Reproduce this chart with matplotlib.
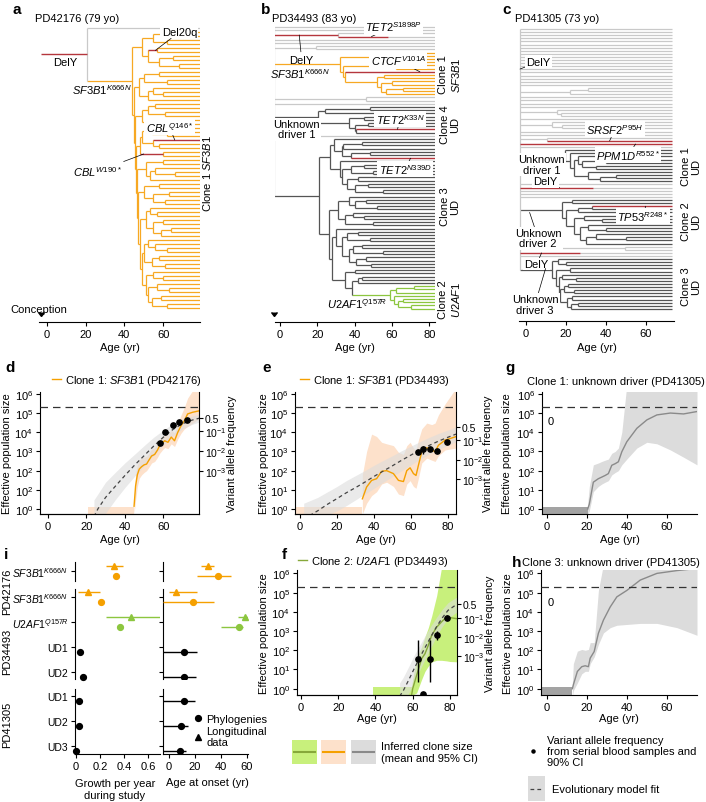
import matplotlib
matplotlib.use("Agg")
import matplotlib.pyplot as plt
from matplotlib.collections import LineCollection
from matplotlib.lines import Line2D
from matplotlib.patches import Rectangle
from matplotlib.ticker import NullLocator

plt.rcParams.update({
    'font.family': ['Liberation Sans', 'DejaVu Sans'],
    'font.size': 8,
    'mathtext.fontset': 'custom',
    'mathtext.rm': 'Liberation Sans',
    'mathtext.it': 'Liberation Sans:italic',
    'mathtext.bf': 'Liberation Sans:bold',
    'axes.linewidth': 0.8,
    'xtick.major.width': 0.8, 'ytick.major.width': 0.8,
    'xtick.major.size': 3, 'ytick.major.size': 3,
    'xtick.major.pad': 2, 'ytick.major.pad': 2,
    'xtick.labelsize': 8, 'ytick.labelsize': 8,
})

W, H = 706, 803

# colours
ORANGE = '#f5a000'
ORANGE_BAND = '#fde1cb'
GREEN = '#8cc63f'
GREEN_LINE = '#86a83a'
GREEN_BAND = '#c8f07c'
GRAY_LINE = '#8a8a8a'
GRAY_BAND = '#dcdcdc'
ONSET_GRAY = '#a3a3a3'
RED = '#b5363d'
TREE_COLORS = {'light': '#c9c9c9', 'orange': '#f7a823', 'dark': '#555555', 'green': '#8cc63f'}

# ---------------- phylogenies (adjacent-tip coalescence ages) ----------------
R = -3.0  # conception

A_GROUPS = ['light'] + ['orange'] * 70
A_SPLITS = [21,
            60, 55, 62, 49, 57, 52, 65, 58, 68, 44,
            58, 50, 62, 47.5, 55, 60, 52, 45,
            56, 52, 61, 49, 64, 45.5,
            54, 62, 49, 55, 58, 48, 60, 46,
            60, 51, 56, 66, 53, 46.5,
            58, 50, 63, 55, 61, 47,
            53, 57, 51, 60, 55, 64, 59, 48,
            52, 56, 62, 50, 58, 54, 61, 49,
            55, 60, 51, 57, 63, 52, 59, 54, 62]
A_MUTS = {(0, 70): None, (5, 6): None, (28, 28): None, (31, 32): None}

B_GROUPS = (['light'] * 8 + ['orange'] * 14 + ['light'] * 3 + ['dark'] * 9 +
            ['light'] + ['dark'] * 46 + ['green'] * 8)
B_SPLITS = [R, R, 31, R, R, R, 19.5, R,
            72, 60, 32, 64, 62, 34, 35, 56, 52, 60, 54, 66, 57,
            R, 46, R, R,
            48, 24, 20.5, 45, 37, 47, 40, 41,
            R, R,
            29, 44, 34, 33, 48, 38, 27,
            32, 45, 38, 50, 33, 42, 36, 47, 40, 55, 21,
            37, 46, 40, 52, 31, 39, 45, 35, 50, 26,
            30, 42, 36, 48, 33, 44, 39, 55, 37, 46, 41, 49, 28,
            40, 35, 44, 42, 38.5, 72, 62, 59, 61, 66, 63, 70]
B_MUTS = {(2, 3): None, (3, 3): 58, (14, 14): None, (32, 32): None, (41, 41): None}

C_GROUPS = (['light'] * 39 + ['dark'] * 11 + ['light'] * 5 + ['dark'] * 15 +
            ['light'] * 4 + ['dark'] * 17)
C_SPLITS = ([R] * 19 + [31.3, 22.2] + [R] * 5 + [15.8, 17.5, R, R, 13, 18, R, R, R, 10.5, R, R, R] +
            [19.7, 22, 26, 40, 28, 35, 24, 31, 45, 37] +
            [R] * 6 +
            [23, 18, 33, 26, 20, 29, 38, 24, 31, 40, 27, 35, 50, 30] +
            [R, 49.7, R, R, R] +
            [16, 20, 13, 22, 15, 18, 25, 16.5, 21, 19, 24, 17, 23, 20.5, 26, 22.5])
C_MUTS = {(36, 36): None, (37, 37): None, (51, 51): 33.8, (57, 57): None, (72, 72): 27}

# ---------------- clone trajectories ----------------
D_AGE = [44.8, 45.6, 46.5, 47.5, 48.7, 50.0, 51.3, 52.5, 53.9, 55.5, 57.0, 58.1, 59.5, 60.7,
         62.4, 64.1, 65.8, 67.5, 69.2, 70.9, 72.6, 75.2, 78.5]
D_MEAN = [1.4, 16, 60, 120, 160, 200, 220, 350, 580, 700, 1200, 2000, 2800, 3600, 3000, 5600,
          3600, 1e4, 2.2e4, 4e4, 9e4, 1.1e5, 1.3e5]
D_LO = [0.55, 3, 15, 40, 60, 80, 100, 150, 250, 300, 500, 800, 1200, 1600, 1400, 2500, 1800,
        4500, 9e3, 1.5e4, 2e4, 3e4, 5e4]
D_HI = [3, 60, 200, 350, 450, 500, 550, 800, 1300, 1600, 2700, 4500, 6500, 8000, 7000, 1.3e4,
        9000, 3e4, 8e4, 2e5, 6e5, 1.5e6, 2e6]
D_ONSET = [21, 44.8]
D_FIT_AGE = [24, 26, 30, 35, 40, 45, 50, 55, 60, 65, 70, 75, 79]
D_FIT = [0.4, 1, 4, 15, 55, 190, 600, 1900, 5500, 1.4e4, 2.8e4, 4.3e4, 5.5e4]
D_FIT_LO = [0.1, 0.2, 0.6, 3, 13, 50, 180, 650, 2200, 6500, 1.5e4, 2.6e4, 3.5e4]
D_FIT_HI = [3, 6, 25, 80, 250, 700, 2000, 5500, 1.3e4, 2.8e4, 5e4, 7e4, 8.5e4]
D_VAF_AGE = [58.1, 61.0, 65.0, 67.9, 72.3]
D_VAF_N = [2600, 1.07e4, 2.4e4, 3.5e4, 4.2e4]
D_VAF_TICKS = [5.6e4, 1.1e4, 1.05e3, 100]

E_AGE = [33.7, 36, 38.7, 41.4, 44.1, 46.8, 50.5, 53.2, 55.9, 57.7, 59.5, 61.3, 62.7, 64, 65.8,
         68.5, 71.2, 73, 74.8, 78.4, 84.3]
E_MEAN = [3.4, 14, 31, 38, 92, 100, 70, 31, 27, 100, 140, 70, 56, 190, 960, 1550, 1200, 960,
          2100, 3900, 5900]
E_LO = [0.55, 2, 5, 8, 20, 25, 15, 6, 5, 20, 30, 15, 12, 40, 250, 450, 350, 300, 600, 1200, 1500]
E_HI = [60, 1000, 8000, 6000, 3000, 2500, 2000, 900, 700, 2000, 3000, 1500, 1200, 4000, 1.5e4,
        3e4, 2.5e4, 3e4, 8e4, 3e5, 2e6]
E_ONSET = [-2.7, 33.7]
E_FIT_AGE = [2, 9.5, 15, 20, 25, 30, 35, 40, 45, 50, 55, 60, 65, 70, 75, 80, 84.3]
E_FIT = [0.3, 0.8, 1.8, 3.5, 7, 13, 25, 50, 95, 180, 350, 650, 1200, 2100, 3500, 5500, 8000]
E_FIT_LO = [0.1, 0.2, 0.5, 0.8, 1.5, 3, 6, 12, 25, 50, 100, 200, 400, 750, 1300, 2100, 3200]
E_FIT_HI = [2, 4, 8, 15, 30, 55, 100, 190, 340, 600, 1100, 1900, 3300, 5500, 8800, 1.3e4, 1.9e4]
E_VAF_AGE = [63.6, 66.6, 70.2, 73.8, 79.2]
E_VAF_N = [950, 1300, 1300, 1100, 3000]
E_VAF_LO = [800, 700, 1100, 950, 2600]
E_VAF_HI = [1100, 2000, 1500, 1300, 3500]
E_VAF_TICKS = [1.8e4, 4e3, 350, 38]

F_AGE = [59.5, 60, 62.1, 64.8, 66.6, 68.4, 70.2, 72.9, 75.5, 78.2, 80, 83.8]
F_MEAN = [0.5, 1, 4.9, 36, 66, 180, 600, 1600, 3000, 5400, 5000, 4400]
F_LO = [0.47, 0.47, 0.6, 3, 8, 15, 25, 30, 30, 28, 26, 25]
F_HI = [1.5, 3, 40, 150, 500, 1500, 6000, 7e4, 2e6, 3e6, 3e6, 3e6]
F_ONSET = [38.8, 59.5]
F_FIT_AGE = [53, 55, 58, 61, 64, 67, 70, 73, 76, 79, 83.8]
F_FIT = [0.4, 0.8, 3, 12, 45, 160, 550, 1800, 5000, 1.2e4, 2.5e4]
F_FIT_LO = [0.1, 0.2, 0.6, 2.5, 10, 40, 150, 600, 1800, 4500, 1e4]
F_FIT_HI = [2, 4, 15, 60, 200, 650, 2000, 5500, 1.4e4, 3e4, 6e4]
F_VAF_AGE = [62.6, 65.3, 69.3, 72.8, 78.2]
F_VAF_N = [36, 0.5, 36, 650, 5000]
F_VAF_LO = [2.2, 0.5, 2.2, 350, 4000]
F_VAF_HI = [330, 0.5, 330, 1000, 6500]
F_VAF_TICKS = [2.7e4, 4.8e3, 490, 50]

G_AGE = [20.5, 21.3, 23.3, 25.8, 27.5, 29.2, 30.8, 32.5, 34.2, 35.8, 37.5, 40, 45, 50, 55, 61.7,
         68.3, 75]
G_MEAN = [1, 1.8, 25, 38, 46, 56, 70, 190, 230, 290, 960, 3200, 1.6e4, 4.4e4, 8e4, 1e5, 9e4, 1.2e5]
G_LO = [0.5, 0.8, 8, 15, 20, 25, 30, 60, 80, 100, 200, 400, 1500, 3000, 2500, 1200, 500, 200]
G_HI = [2, 15, 200, 250, 300, 350, 400, 800, 1000, 1500, 1e4, 3e6, 3e6, 3e6, 3e6, 3e6, 3e6, 3e6]
G_ONSET = [-2.3, 20.5]

H_AGE = [12.8, 13.3, 15.3, 17.5, 19.2, 20.8, 21.7, 23.7, 25.8, 28.3, 31.7, 35, 40, 46.7, 55, 65, 75]
H_MEAN = [1, 1.6, 7.9, 14, 15.6, 14, 39, 86, 770, 3700, 1.8e4, 6e4, 1.3e5, 4.5e5, 1e6, 1.4e6, 1.8e6]
H_LO = [0.4, 0.8, 2, 6, 8, 8, 20, 45, 200, 800, 1500, 2000, 2200, 2500, 2500, 1500, 600]
H_HI = [2, 20, 90, 110, 100, 110, 250, 250, 1.3e5, 3e6, 3e6, 3e6, 3e6, 3e6, 3e6, 3e6, 3e6]
H_ONSET = [-2.85, 12.8]

# ---------------- panel i ----------------
I_ROW_LABELS = [r'$\mathit{SF3B1}^{\mathit{K666N}}$', r'$\mathit{SF3B1}^{\mathit{K666N}}$',
                r'$\mathit{U2AF1}^{\mathit{Q157R}}$', 'UD1', 'UD2', 'UD1', 'UD2', 'UD3']
I_ROW_GROUP = [0, 1, 1, 1, 1, 2, 2, 2]
I_ROW_POS = [0, 0, 1, 2, 3, 0, 1, 2]
I_ROW_COLORS = [ORANGE, ORANGE, GREEN, 'k', 'k', 'k', 'k', 'k']
I_GROUP_NAMES = ['PD42176', 'PD34493', 'PD41305']
I_GROWTH_PHYLO = [0.33, 0.21, 0.37, 0.033, 0.056, 0.025, 0.027, 0.0]
I_GROWTH_LONG = [0.32, 0.10, 0.46]
I_GROWTH_LONG_LO = [0.25, 0.02, 0.25]
I_GROWTH_LONG_HI = [0.39, 0.20, 0.72]
I_ONSET_PHYLO = [37.9, 18.3, 54.4, 11.8, 11.9, 11.8, 9.4, 8.1]
I_ONSET_PHYLO_LO = [21.7, -5, 40.5, -5, -5, -5, -5, -5]
I_ONSET_PHYLO_HI = [47.8, 34.8, 57.0, 21.7, 21.0, 20.4, 15.0, 13.3]
I_ONSET_LONG = [30.0, 5.5, 58.3]
I_ONSET_LONG_LO = [24.3, 0.0, 53.0]
I_ONSET_LONG_HI = [34.8, 21.7, 63.5]


def box(x0, y0, x1, y1):
    return [x0 / W, 1 - y1 / H, (x1 - x0) / W, (y1 - y0) / H]


def px_ax(b, x, y):
    x0, y0, x1, y1 = b
    return (x - x0) / (x1 - x0), (y1 - y) / (y1 - y0)


def ftext(x, y, s, **kw):
    kw.setdefault('ha', 'center')
    kw.setdefault('va', 'center')
    fig.text(x / W, 1 - y / H, s, **kw)


def draw_tree(ax, splits, groups, tip_age, muts):
    segs, cols, red = [], [], []

    def node_color(lo, hi):
        g = set(groups[lo:hi + 1])
        if len(g) == 1:
            return TREE_COLORS[g.pop()]
        return TREE_COLORS['light'] if 'light' in g else TREE_COLORS['dark']

    def stem(lo, hi, a0, a1, y, c):
        if (lo, hi) in muts:
            end = muts[(lo, hi)]
            end = a1 if end is None else end
            red.append([(a0, y), (end, y)])
            if end < a1:
                segs.append([(end, y), (a1, y)]); cols.append(c)
        else:
            segs.append([(a0, y), (a1, y)]); cols.append(c)

    def build(lo, hi, parent):
        c = node_color(lo, hi)
        if lo == hi:
            stem(lo, hi, parent, tip_age, lo, c)
            return lo
        inner = splits[lo:hi]
        age = min(inner)
        cuts = [lo + i for i, v in enumerate(inner) if v == age]
        starts = [lo] + [k + 1 for k in cuts]
        ends = cuts + [hi]
        ys = [build(a, b, age) for a, b in zip(starts, ends)]
        y = (ys[0] + ys[-1]) / 2
        segs.append([(age, ys[0]), (age, ys[-1])]); cols.append(c)
        stem(lo, hi, parent, age, y, c)
        return y

    build(0, len(groups) - 1, R)
    ax.add_collection(LineCollection(segs, colors=cols, linewidths=0.9))
    ax.add_collection(LineCollection(red, colors=RED, linewidths=1.0))


def tree_panel(b, splits, groups, tip_age, muts, xlim, ylim, xticks):
    ax = fig.add_axes(box(*b))
    draw_tree(ax, splits, groups, tip_age, muts)
    ax.set_xlim(*xlim)
    ax.set_ylim(*ylim)
    for s in ['left', 'right', 'top']:
        ax.spines[s].set_visible(False)
    ax.set_yticks([])
    ax.set_xticks(xticks)
    ax.plot([R], [0.02], marker=7, ms=4, color='k', transform=ax.get_xaxis_transform(),
            clip_on=False)
    ax.set_xlabel('Age (yr)')
    ax.xaxis.set_label_coords(*px_ax(b, (b[0] + b[2]) / 2, 348))
    ax.xaxis.label.set_va('center')
    return ax


def note(ax, text, xytext, xy=None, bbox=True):
    kw = dict(ha='center', va='center', fontsize=8, zorder=5, linespacing=1.05)
    if bbox:
        kw['bbox'] = dict(boxstyle='square,pad=0.12', fc='white', ec='none')
    if xy is None:
        ax.text(xytext[0], xytext[1], text, **kw)
    else:
        ax.annotate(text, xy=xy, xytext=xytext,
                    arrowprops=dict(arrowstyle='-', color='k', lw=0.5, shrinkA=0, shrinkB=0), **kw)


def clone_panel(b, age, mean, lo, hi, onset, line_c, band_c, onset_c, xlim, ylim, xticks,
                ylabels, ylab_x, fit=None, vaf=None, vaf_ticks=None, vlab_x=None, xlab_y=540):
    ax = fig.add_axes(box(*b))
    ax.set_yscale('log')
    ax.fill_between(age, lo, hi, color=band_c, lw=0, zorder=1)
    ax.fill_between(onset, [ylim[0]] * 2, [1.3] * 2, color=onset_c, lw=0, zorder=1)
    if fit is not None:
        fa, fm, fl, fh = fit
        ax.fill_between(fa, fl, fh, color=GRAY_BAND, alpha=0.6, lw=0, zorder=2)
    ax.plot(age, mean, color=line_c, lw=1, zorder=3)
    if fit is not None:
        ax.plot(fa, fm, color='#444444', lw=0.9, ls=(0, (3, 2.5)), zorder=4)
    ax.axhline(2e5, color='#333333', lw=0.9, ls=(0, (6, 4)), zorder=4)
    if vaf is not None:
        va, vn, vlo, vhi = vaf
        ax.errorbar(va, vn, yerr=[[n - l for n, l in zip(vn, vlo)], [h - n for n, h in zip(vn, vhi)]],
                    fmt='o', color='k', ms=3.8, elinewidth=1, capsize=0, zorder=5)
    ax.set_xlim(*xlim)
    ax.set_ylim(*ylim)
    ax.set_xticks(xticks)
    ax.set_yticks([1, 10, 100, 1e3, 1e4, 1e5, 1e6])
    ax.set_yticklabels(ylabels)
    ax.yaxis.set_minor_locator(NullLocator())
    ax.spines['top'].set_visible(False)
    ax.spines['right'].set_visible(False)
    ax.set_xlabel('Age (yr)')
    ax.xaxis.set_label_coords(*px_ax(b, (b[0] + b[2]) / 2, xlab_y))
    ax.xaxis.label.set_va('center')
    ax.set_ylabel('Effective population size')
    ax.yaxis.set_label_coords(*px_ax(b, ylab_x, (b[1] + b[3]) / 2))
    ax.yaxis.label.set_va('center')
    if vaf_ticks is not None:
        ax2 = ax.twinx()
        ax2.set_yscale('log')
        ax2.set_ylim(*ylim)
        ax2.set_yticks(vaf_ticks)
        ax2.set_yticklabels(['0.5', r'10$^{-1}$', r'10$^{-2}$', r'10$^{-3}$'], fontsize=7.5)
        ax2.tick_params(axis='y', pad=1)
        ax2.yaxis.set_minor_locator(NullLocator())
        ax2.spines['top'].set_visible(False)
        ax2.spines['left'].set_visible(False)
        ax2.set_ylabel('Variant allele frequency')
        ax2.yaxis.set_label_coords(*px_ax(b, vlab_x, (b[1] + b[3]) / 2))
        ax2.yaxis.label.set_va('center')
    return ax


fig = plt.figure(figsize=(W / 100, H / 100), dpi=100)

# ---------- a ----------
ba = (39, 20, 200, 323)
axa = tree_panel(ba, A_SPLITS, A_GROUPS, 79, A_MUTS, (-4, 79), (73.5, -2.25), [0, 20, 40, 60])
note(axa, 'Del20q', (68.4, 1), (56, 5.6))
note(axa, r'$\mathit{SF3B1}^{\mathit{K666N}}$', (28.3, 15.3), bbox=False)
note(axa, r'$\mathit{CBL}^{\mathit{Q146*}}$', (63.2, 24.7), (66, 28))
note(axa, r'$\mathit{CBL}^{\mathit{W190*}}$', (26.3, 35.8), (50, 31.5), bbox=False)
note(axa, 'DelY', (9.4, 8.6), bbox=False)
ftext(35, 19, 'PD42176 (79 yo)', ha='left')
ftext(39, 310, 'Conception')
ftext(207, 173, r'Clone 1 $\mathit{SF3B1}$', rotation=90)

# ---------- b ----------
bb = (275, 20, 435, 323)
axb = tree_panel(bb, B_SPLITS, B_GROUPS, 83, B_MUTS, (-2.7, 83.1), (92.2, -2.5), [0, 20, 40, 60, 80])
note(axb, r'$\mathit{TET2}^{\mathit{S1898P}}$', (60.8, -0.2), (49, 3))
note(axb, 'DelY', (11.6, 10.2), (10.3, 2.5), bbox=False)
note(axb, r'$\mathit{SF3B1}^{\mathit{K666N}}$', (10.8, 14.4), bbox=False)
note(axb, r'$\mathit{CTCF}^{\mathit{V101A}}$', (63.4, 10.5), (75, 14))
note(axb, 'Unknown\ndriver 1', (8.9, 31.9))
note(axb, r'$\mathit{TET2}^{\mathit{K33N}}$', (64.3, 28.7), (63, 32))
note(axb, r'$\mathit{TET2}^{\mathit{N339D}}$', (67, 44.4), (70, 41))
note(axb, r'$\mathit{U2AF1}^{\mathit{Q157R}}$', (41.1, 86.3), bbox=False)
ftext(272, 19, 'PD34493 (83 yo)', ha='left')
for yy, lab in [(75, 'Clone 1\n$\\mathit{SF3B1}$'), (125, 'Clone 4\nUD'), (207, 'Clone 3\nUD'),
                (300, 'Clone 2\n$\\mathit{U2AF1}$')]:
    ftext(450, yy, lab, rotation=90, linespacing=1.1)

# ---------- c ----------
bc = (519, 20, 674, 322)
axc = tree_panel(bc, C_SPLITS, C_GROUPS, 73, C_MUTS, (-3.3, 74.2), (93.9, -3.2), [0, 20, 40, 60])
note(axc, 'DelY', (6.5, 10.5), (-2.8, 12.9))
note(axc, r'$\mathit{SRSF2}^{\mathit{P95H}}$', (44.7, 32.2), (42, 36))
note(axc, r'$\mathit{PPM1D}^{\mathit{R552*}}$', (51.3, 40.5), (55, 37))
note(axc, 'Unknown\ndriver 1', (8, 43.6))
note(axc, 'DelY', (10, 49), (17, 51))
note(axc, r'$\mathit{TP53}^{\mathit{R248*}}$', (58.8, 60.2), (60, 57))
note(axc, 'Unknown\ndriver 2', (6.3, 67.3), (2, 59))
note(axc, 'DelY', (5.5, 75.6), (8, 72))
note(axc, 'Unknown\ndriver 3', (4.7, 88.6), (10, 77))
ftext(515, 19, 'PD41305 (73 yo)', ha='left')
for yy, lab in [(167, 'Clone 1\nUD'), (222, 'Clone 2\nUD'), (287, 'Clone 3\nUD')]:
    ftext(691, yy, lab, rotation=90, linespacing=1.1)

# ---------- d, e, g ----------
YL = [r'10$^0$', r'10$^1$', r'10$^2$', r'10$^3$', r'10$^4$', r'10$^5$', r'10$^6$']
YL_D = [r'10$^0$', r'10$^2$', r'10$^2$', r'10$^3$', r'10$^4$', r'10$^5$', r'10$^6$']
bd = (40, 393, 199, 515)
axd = clone_panel(bd, D_AGE, D_MEAN, D_LO, D_HI, D_ONSET, ORANGE, ORANGE_BAND, ORANGE_BAND,
                  (-4, 78.5), (0.55, 1.25e6), [0, 20, 40, 60], YL_D, 7,
                  fit=(D_FIT_AGE, D_FIT, D_FIT_LO, D_FIT_HI),
                  vaf=(D_VAF_AGE, D_VAF_N, D_VAF_N, D_VAF_N), vaf_ticks=D_VAF_TICKS, vlab_x=232)
be = (295, 393, 456, 515)
axe = clone_panel(be, E_AGE, E_MEAN, E_LO, E_HI, E_ONSET, ORANGE, ORANGE_BAND, ORANGE_BAND,
                  (-2.7, 84.3), (0.55, 1.25e6), [0, 20, 40, 60, 80], YL, 264,
                  fit=(E_FIT_AGE, E_FIT, E_FIT_LO, E_FIT_HI),
                  vaf=(E_VAF_AGE, E_VAF_N, E_VAF_LO, E_VAF_HI), vaf_ticks=E_VAF_TICKS, vlab_x=488)
bg = (542, 393, 697, 515)
axg = clone_panel(bg, G_AGE, G_MEAN, G_LO, G_HI, G_ONSET, GRAY_LINE, GRAY_BAND, ONSET_GRAY,
                  (-2.3, 75), (0.55, 1.25e6), [0, 20, 40, 60], YL, 507)
axg.text(0.3, 4e4, '0', ha='left', va='center')

# ---------- f, h ----------
bf = (297, 571, 457, 696)
axf = clone_panel(bf, F_AGE, F_MEAN, F_LO, F_HI, F_ONSET, GREEN_LINE, GREEN_BAND, GREEN_BAND,
                  (-2.1, 83.8), (0.47, 1.5e6), [0, 20, 40, 60, 80], YL, 264,
                  fit=(F_FIT_AGE, F_FIT, F_FIT_LO, F_FIT_HI),
                  vaf=(F_VAF_AGE, F_VAF_N, F_VAF_LO, F_VAF_HI), vaf_ticks=F_VAF_TICKS, vlab_x=490,
                  xlab_y=719)
bh = (541, 571, 697, 696)
axh = clone_panel(bh, H_AGE, H_MEAN, H_LO, H_HI, H_ONSET, GRAY_LINE, GRAY_BAND, ONSET_GRAY,
                  (-2.85, 75), (0.47, 1.5e6), [0, 20, 40, 60], YL, 508, xlab_y=719)
axh.text(0.3, 3.3e4, '0', ha='left', va='center')

# panel titles
for ax, b, x, y, c, t in [(axd, bd, 52, 381, ORANGE, r'Clone 1: $\mathit{SF3B1}$ (PD42176)'),
                          (axe, be, 300, 381, ORANGE, r'Clone 1: $\mathit{SF3B1}$ (PD34493)'),
                          (axf, bf, 298, 562, GREEN_LINE, r'Clone 2: $\mathit{U2AF1}$ (PD34493)')]:
    ax.legend(handles=[Line2D([], [], color=c, lw=1)], labels=[t], loc='center left',
              bbox_to_anchor=px_ax(b, x, y), frameon=False, handlelength=0.8,
              handletextpad=0.35, borderaxespad=0, borderpad=0, fontsize=8)
ftext(527, 382, 'Clone 1: unknown driver (PD41305)', ha='left', fontsize=8)
ftext(522, 563, 'Clone 3: unknown driver (PD41305)', ha='left', fontsize=8)

# ---------- i ----------
I_COL_X = [(75, 160), (163, 248)]
I_GRP_Y = [(563, 582, 0.4, -0.36), (590, 680, 3.28, -0.32), (690, 755, 2.32, -0.28)]
I_XLIM = [(-0.008, 0.7), (-4.7, 61)]
iax = {}
for g, (y0, y1, yb, yt) in enumerate(I_GRP_Y):
    for col, (x0, x1) in enumerate(I_COL_X):
        b = (x0, y0, x1, y1)
        ax = fig.add_axes(box(*b))
        ax.set_xlim(*I_XLIM[col])
        ax.set_ylim(yb, yt)
        for s in ['right', 'top']:
            ax.spines[s].set_visible(False)
        rows = [r for r in range(8) if I_ROW_GROUP[r] == g]
        ax.set_yticks([I_ROW_POS[r] for r in rows])
        if col == 0:
            ax.set_yticklabels([I_ROW_LABELS[r] for r in rows], fontsize=7.5)
        else:
            ax.set_yticklabels([])
        if g < 2:
            ax.spines['bottom'].set_visible(False)
            ax.set_xticks([])
        iax[(g, col)] = (ax, b)

for r in range(8):
    g, y = I_ROW_GROUP[r], I_ROW_POS[r]
    c = I_ROW_COLORS[r]
    ax0 = iax[(g, 0)][0]
    ax1 = iax[(g, 1)][0]
    ax0.plot(I_GROWTH_PHYLO[r], y + 0.2, 'o', color=c, ms=4.2, clip_on=False, zorder=4)
    ax1.errorbar(I_ONSET_PHYLO[r], y + 0.2,
                 xerr=[[I_ONSET_PHYLO[r] - I_ONSET_PHYLO_LO[r]], [I_ONSET_PHYLO_HI[r] - I_ONSET_PHYLO[r]]],
                 fmt='o', color=c, ms=4.2, elinewidth=1, capsize=0, zorder=4)
    if r < len(I_GROWTH_LONG):
        ax0.errorbar(I_GROWTH_LONG[r], y - 0.22,
                     xerr=[[I_GROWTH_LONG[r] - I_GROWTH_LONG_LO[r]], [I_GROWTH_LONG_HI[r] - I_GROWTH_LONG[r]]],
                     fmt='^', color=c, ms=5, elinewidth=1, capsize=0, zorder=4)
        ax1.errorbar(I_ONSET_LONG[r], y - 0.22,
                     xerr=[[I_ONSET_LONG[r] - I_ONSET_LONG_LO[r]], [I_ONSET_LONG_HI[r] - I_ONSET_LONG[r]]],
                     fmt='^', color=c, ms=5, elinewidth=1, capsize=0, zorder=4)

ax_l, b_l = iax[(2, 0)]
ax_l.set_xticks([0, 0.2, 0.4, 0.6])
ax_l.set_xticklabels(['0', '0.2', '0.4', '0.6'])
ax_r, b_r = iax[(2, 1)]
ax_r.set_xticks([0, 20, 40, 60])
ftext(115, 790, 'Growth per year\nduring study', linespacing=1.15)
ftext(207, 783, 'Age at onset (yr)')
for name, yy in zip(I_GROUP_NAMES, [592, 652, 725]):
    ftext(7, yy, name, rotation=90)
ax_r.legend(handles=[Line2D([], [], marker='o', ls='', color='k', ms=4.2),
                     Line2D([], [], marker='^', ls='', color='k', ms=5)],
            labels=['Phylogenies', 'Longitudinal\ndata'], loc='upper left',
            bbox_to_anchor=px_ax(b_r, 194, 715), frameon=False, handlelength=0.8,
            handletextpad=0.3, borderpad=0, borderaxespad=0, labelspacing=0.15, fontsize=8)

# ---------- legends under f and h ----------
lg = fig.add_axes(box(285, 735, 470, 770))
lg.set_xlim(285, 470)
lg.set_ylim(770, 735)
lg.axis('off')
for x, band, line in [(292, GREEN_BAND, GREEN_LINE), (321, ORANGE_BAND, ORANGE), (351, GRAY_BAND, GRAY_LINE)]:
    lg.add_patch(Rectangle((x, 741), 25, 24, color=band, lw=0))
    lg.plot([x + 2, x + 23], [753, 753], color=line, lw=1.5)
lg.text(381, 753, 'Inferred clone size\n(mean and 95% CI)', ha='left', va='center', linespacing=1.15)

lh = fig.add_axes(box(520, 730, 706, 803))
lh.set_xlim(520, 706)
lh.set_ylim(803, 730)
lh.axis('off')
lh.plot([533], [752], 'o', color='k', ms=2.2)
lh.text(547, 752, 'Variant allele frequency\nfrom serial blood samples and\n90% CI', ha='left',
        va='center', linespacing=1.15)
lh.add_patch(Rectangle((528, 777), 17, 25, color=GRAY_BAND, lw=0))
lh.plot([530, 543], [790, 790], color='#444444', lw=0.9, ls=(0, (3, 2.5)))
lh.text(552, 790, 'Evolutionary model fit', ha='left', va='center')

# panel letters
for x, y, s in [(12, 10, 'a'), (261, 10, 'b'), (502, 10, 'c'), (5, 368, 'd'), (262, 368, 'e'),
                (505, 368, 'g'), (282, 555, 'f'), (512, 563, 'h'), (4, 555, 'i')]:
    ftext(x, y, s, fontweight='bold', fontsize=11, ha='left')

fig.savefig('out.png', dpi=100)
